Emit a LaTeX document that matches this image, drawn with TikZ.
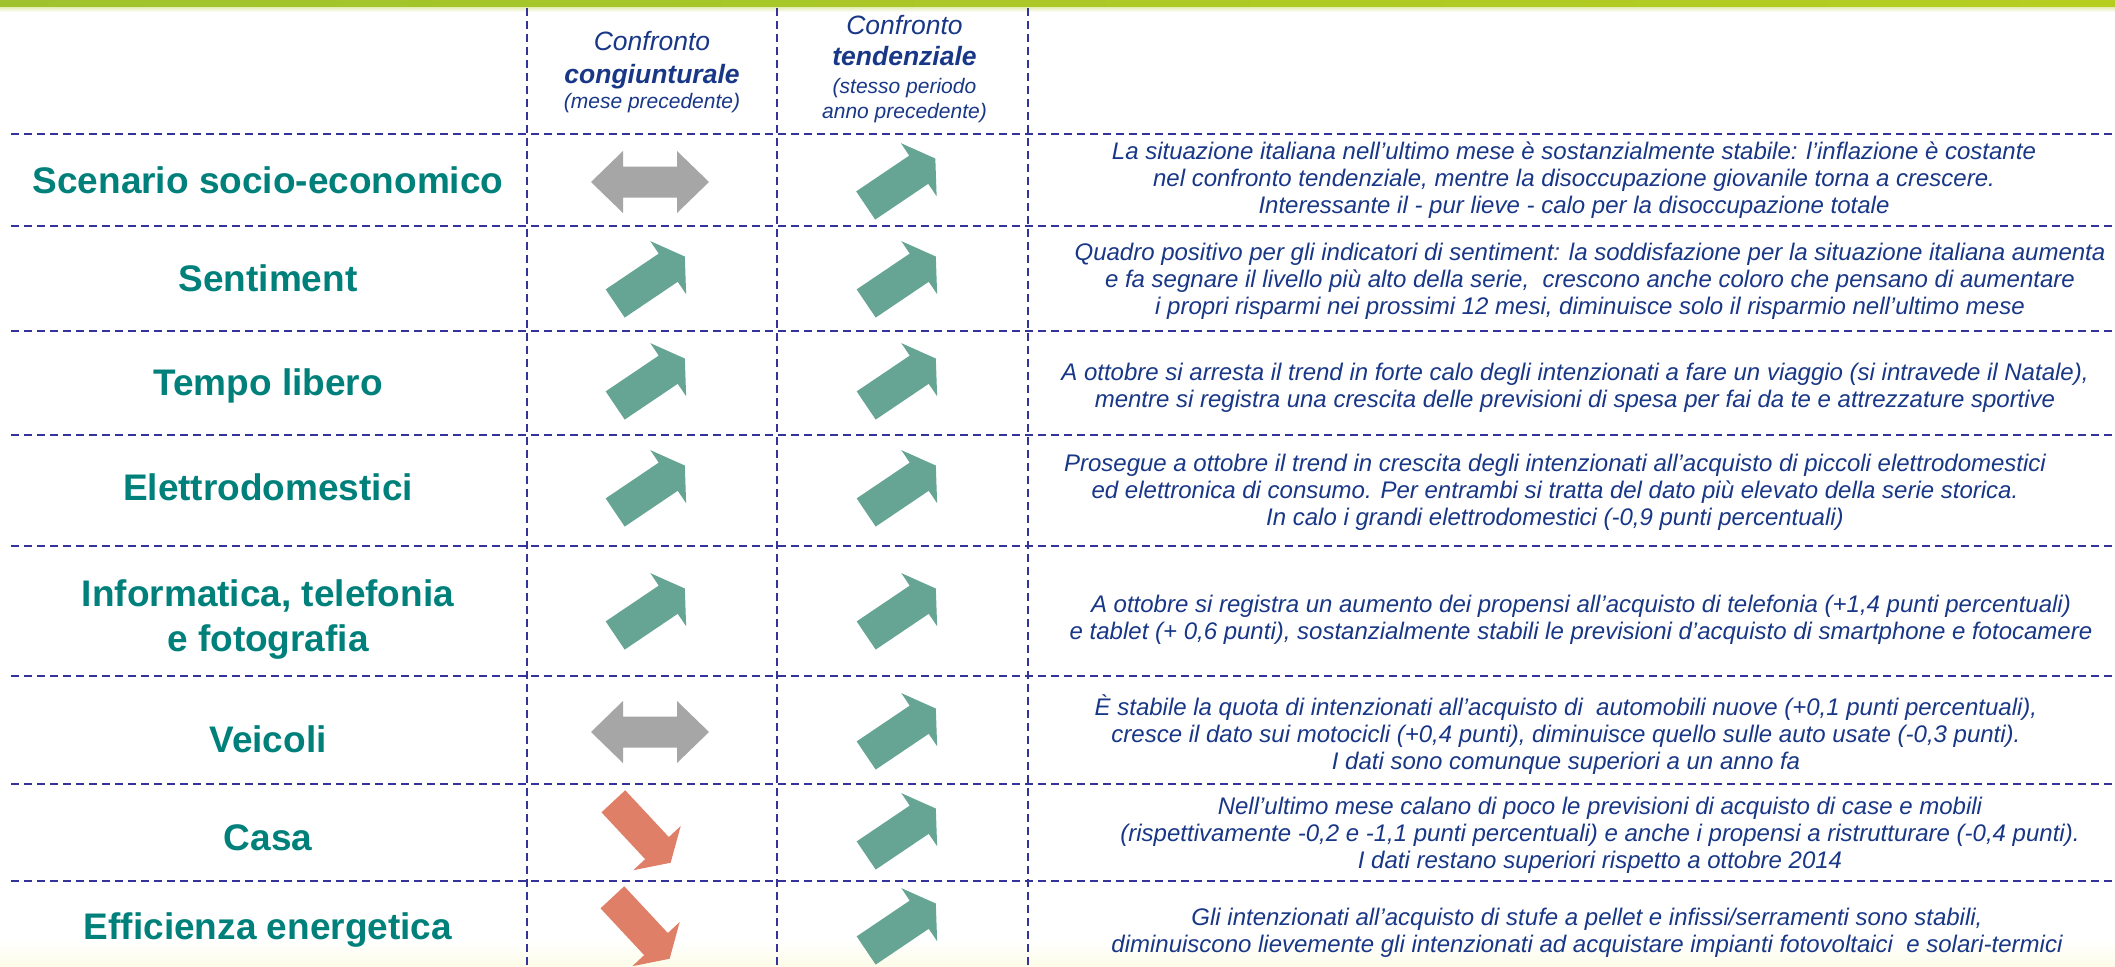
\documentclass[tikz,border=0pt]{standalone}
\usepackage{fontspec}
\setmainfont{Liberation Sans}
\definecolor{gridc}{RGB}{51,51,153}
\definecolor{navy}{RGB}{25,55,135}
\definecolor{tealc}{RGB}{0,128,122}
\definecolor{greenarr}{RGB}{102,165,148}
\definecolor{redarr}{RGB}{224,127,104}
\definecolor{grayarr}{RGB}{166,166,166}
\definecolor{barL}{RGB}{160,195,45}
\definecolor{barR}{RGB}{182,206,32}
\definecolor{barfade}{RGB}{230,238,185}
\definecolor{bottint}{RGB}{252,252,232}
\newcommand\mlines[1]{\vtop{\lineskiplimit=-1000pt\halign{\hfil##\hfil\cr #1\crcr}}}
\tikzset{
  gridline/.style={gridc, line width=2.3bp, dash pattern=on 8bp off 5bp},
  lab/.style={font=\bfseries\fontsize{37bp}{45bp}\selectfont, text=tealc, inner sep=0pt, anchor=base},
  desc/.style={font=\itshape\fontsize{24bp}{27.3bp}\selectfont, text=navy, inner sep=0pt, anchor=base},
  hmain/.style={font=\itshape\fontsize{26.5bp}{30bp}\selectfont, text=navy, inner sep=0pt, anchor=base},
  hbold/.style={font=\bfseries\itshape\fontsize{26.5bp}{30bp}\selectfont, text=navy, inner sep=0pt, anchor=base},
  hsub/.style={font=\itshape\fontsize{21bp}{25bp}\selectfont, text=navy, inner sep=0pt, anchor=base},
  greenup/.pic={\fill[greenarr, rotate=34] (-42,-17) -- (22,-17) -- (22,-32) -- (42,0) -- (22,32) -- (22,17) -- (-42,17) -- cycle;},
  reddown/.pic={\fill[redarr, rotate=-47] (-42,-16.2) -- (22,-16.2) -- (22,-32.4) -- (42,0) -- (22,32.4) -- (22,16.2) -- (-42,16.2) -- cycle;},
  grayboth/.pic={\fill[grayarr] (-59,0) -- (-27,31) -- (-27,15.5) -- (27,15.5) -- (27,31) -- (59,0) -- (27,-31) -- (27,-15.5) -- (-27,-15.5) -- (-27,-31) -- cycle;}
}
\begin{document}
\begin{tikzpicture}[x=1bp, y=1bp]
\useasboundingbox (0,0) rectangle (2115,-967);
\fill[white] (0,0) rectangle (2115,-967);
% top bar and bottom tint
\shade[left color=barL, right color=barR] (0,0) rectangle (2115,-7.5);
\shade[top color=barfade, bottom color=white] (0,-7.5) rectangle (2115,-12);
\shade[top color=white, bottom color=bottint] (0,-940) rectangle (2115,-967);
% grid
\foreach \yy in {134,226,331,435,546,676,784,881} \draw[gridline] (11,-\yy) -- (2115,-\yy);
\foreach \xx in {527,777,1028} \draw[gridline] (\xx,-8) -- (\xx,-967);
% header
\node[hmain] (h1a) at (652,-50) {Confronto};
\node[hbold] (h1b) at (652,-83) {congiunturale};
\node[hsub]  (h1c) at (652,-108.5) {(mese precedente)};
\node[hmain] (h2a) at (904.5,-34.5) {Confronto};
\node[hbold] (h2b) at (904.5,-65.5) {tendenziale};
\node[hsub]  (h2c) at (904.5,-93.5) {(stesso periodo};
\node[hsub]  (h2d) at (904.5,-118) {anno precedente)};
% labels
\node[lab] (l1) at (268,-193) {Scenario socio-economico};
\node[lab] (l2) at (268,-291.5) {Sentiment};
\node[lab] (l3) at (268,-395) {Tempo libero};
\node[lab] (l4) at (268,-500) {Elettrodomestici};
\node[lab] (l5) at (268,-606) {\mlines{Informatica, telefonia\cr e fotografia}};
\node[lab] (l6) at (268,-752) {Veicoli};
\node[lab] (l7) at (268,-850) {Casa};
\node[lab] (l8) at (268,-939) {Efficienza energetica};
% arrows
\pic (a1c) at (650,-182) {grayboth};
\pic (a1t) at (900.5,-182) {greenup};
\pic (a2c) at (650,-280) {greenup};
\pic (a2t) at (901,-280) {greenup};
\pic (a3c) at (650,-382) {greenup};
\pic (a3t) at (901,-382) {greenup};
\pic (a4c) at (650,-489) {greenup};
\pic (a4t) at (901,-489) {greenup};
\pic (a5c) at (650,-612) {greenup};
\pic (a5t) at (901,-612) {greenup};
\pic (a6c) at (650,-732) {grayboth};
\pic (a6t) at (901,-732) {greenup};
\pic (a7c) at (642,-832) {reddown};
\pic (a7t) at (901,-832) {greenup};
\pic (a8c) at (641,-928) {reddown};
\pic (a8t) at (901,-927) {greenup};
% descriptions
\node[desc] (d1) at (1574,-159) {\mlines{La situazione italiana nell’ultimo mese è sostanzialmente stabile: l’inflazione è costante\cr nel confronto tendenziale, mentre la disoccupazione giovanile torna a crescere.\cr Interessante il - pur lieve - calo per la disoccupazione totale}};
\node[desc] (d2) at (1590,-260) {\mlines{Quadro positivo per gli indicatori di sentiment: la soddisfazione per la situazione italiana aumenta\cr e fa segnare il livello più alto della serie,\ \ crescono anche coloro che pensano di aumentare\cr i propri risparmi nei prossimi 12 mesi, diminuisce solo il risparmio nell’ultimo mese}};
\node[desc] (d3) at (1575,-380) {\mlines{A ottobre si arresta il trend in forte calo degli intenzionati a fare un viaggio (si intravede il Natale),\cr mentre si registra una crescita delle previsioni di spesa per fai da te e attrezzature sportive}};
\node[desc] (d4) at (1555,-471) {\mlines{Prosegue a ottobre il trend in crescita degli intenzionati all’acquisto di piccoli elettrodomestici\cr ed elettronica di consumo. Per entrambi si tratta del dato più elevato della serie storica.\cr In calo i grandi elettrodomestici (-0,9 punti percentuali)}};
\node[desc] (d5) at (1581,-612) {\mlines{A ottobre si registra un aumento dei propensi all’acquisto di telefonia (+1,4 punti percentuali)\cr e tablet (+ 0,6 punti), sostanzialmente stabili le previsioni d’acquisto di smartphone e fotocamere}};
\node[desc] (d6) at (1566,-715) {\mlines{È stabile la quota di intenzionati all’acquisto di\ \ automobili nuove (+0,1 punti percentuali),\cr cresce il dato sui motocicli (+0,4 punti), diminuisce quello sulle auto usate (-0,3 punti).\cr I dati sono comunque superiori a un anno fa}};
\node[desc] (d7) at (1600,-814) {\mlines{Nell’ultimo mese calano di poco le previsioni di acquisto di case e mobili\cr (rispettivamente -0,2 e -1,1 punti percentuali) e anche i propensi a ristrutturare (-0,4 punti).\cr I dati restano superiori rispetto a ottobre 2014}};
\node[desc] (d8) at (1587,-925) {\mlines{Gli intenzionati all’acquisto di stufe a pellet e infissi/serramenti sono stabili,\cr diminuiscono lievemente gli intenzionati ad acquistare impianti fotovoltaici\ \ e solari-termici}};
\end{tikzpicture}
\end{document}
